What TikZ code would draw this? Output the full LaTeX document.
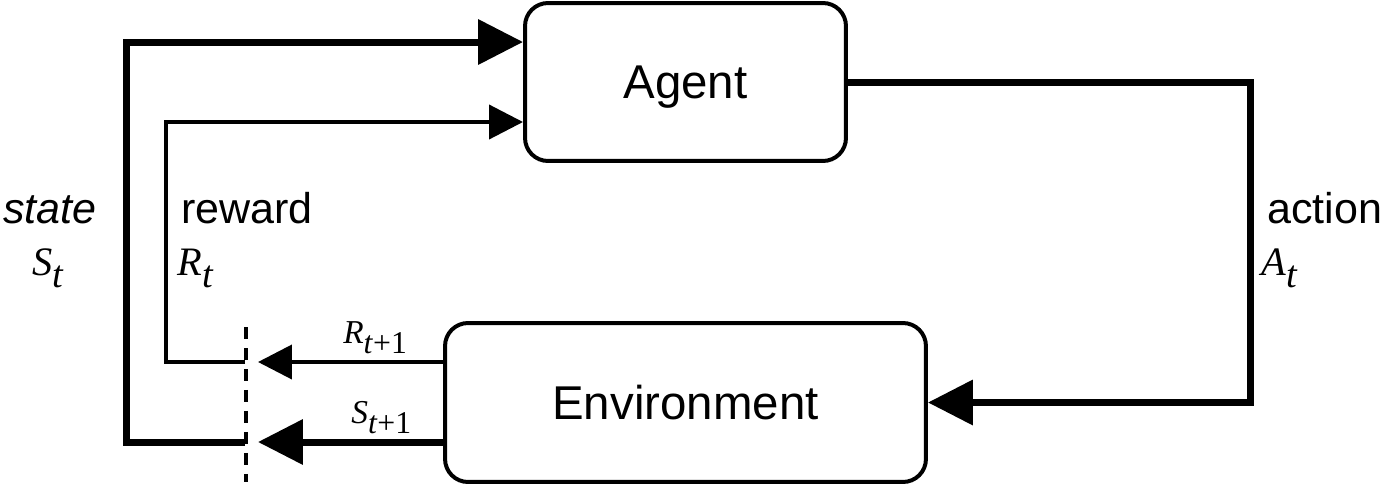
\documentclass[tikz,border=0pt]{standalone}
\usepackage{graphicx}
\usepackage{fontspec}
\setsansfont{Liberation Sans}
\newfontfamily\symfont{Liberation Serif}
\usetikzlibrary{arrows.meta,positioning}

% italic symbol with a lowered subscript
\newcommand\varlbl[2]{{\symfont\itshape #1}\raisebox{-0.3em}{\scalebox{0.95}{\symfont\itshape #2}}}

\begin{document}
\begin{tikzpicture}[x=0.02cm, y=-0.02cm,
    box/.style={draw, line width=0.08cm, rounded corners=0.46cm, text depth=0pt,
      font=\sffamily\fontsize{27}{31}\selectfont},
    bigarrow/.style={line width=0.14cm, -{Triangle[length=0.9cm, width=0.88cm]}},
    smallarrow/.style={line width=0.08cm, -{Triangle[length=0.68cm, width=0.68cm]}},
    word/.style={inner sep=0pt, font=\sffamily\fontsize{24.5}{29}\selectfont},
    sym/.style={inner sep=0pt, font=\fontsize{23}{27}\selectfont},
    subsym/.style={inner sep=0pt, font=\fontsize{19}{23}\selectfont}]
    \useasboundingbox (0,0) rectangle (1384,488);

    \node[box, minimum width=6.42cm, minimum height=3.16cm] (agent) at (685.5,82) {Agent};
    \node[box, minimum width=9.62cm, minimum height=3.18cm] (env) at (685.5,402.5) {Environment};

    % dashed separator between time steps
    \coordinate (septop) at (246,327);
    \coordinate (sepbot) at (246,482);
    \draw[line width=0.08cm, dash pattern=on 0.24cm off 0.18cm] (septop) -- (sepbot);

    % reward and state leaving the environment
    \coordinate (rin) at (258,362);
    \coordinate (sin) at (258,442);
    \draw[smallarrow] (env.west |- rin) -- (rin);
    \draw[bigarrow] (env.west |- sin) -- (sin);

    % fed back to the agent
    \coordinate (rout) at (245,362);
    \coordinate (sout) at (245,442);
    \coordinate (rcorner) at (166,122);
    \coordinate (scorner) at (126,42);
    \draw[smallarrow] (rout) -| (rcorner) -- (agent.west |- rcorner);
    \draw[bigarrow] (sout) -| (scorner) -- (agent.west |- scorner);

    % action
    \coordinate (acorner) at (1250,82);
    \draw[bigarrow] (agent.east) -- (acorner) |- (env.east);

    \node[word, anchor=base west] (statelbl) at (3,223) {\itshape state};
    \node[sym, anchor=base west] (stlbl) at (32,275) {\varlbl{S}{t}};
    \node[word, anchor=base west] (rewardlbl) at (181,223) {reward};
    \node[sym, anchor=base west] (rtlbl) at (177,275) {\varlbl{R}{t}};
    \node[word, anchor=base west] (actionlbl) at (1267,223) {action};
    \node[sym, anchor=base west] (atlbl) at (1261,275) {\varlbl{A}{t}};
    \node[subsym, anchor=base west] (rnextlbl) at (343,343) {\varlbl{R}{t\textup{+1}}};
    \node[subsym, anchor=base west] (snextlbl) at (351,423) {\varlbl{S}{t\textup{+1}}};
\end{tikzpicture}
\end{document}
